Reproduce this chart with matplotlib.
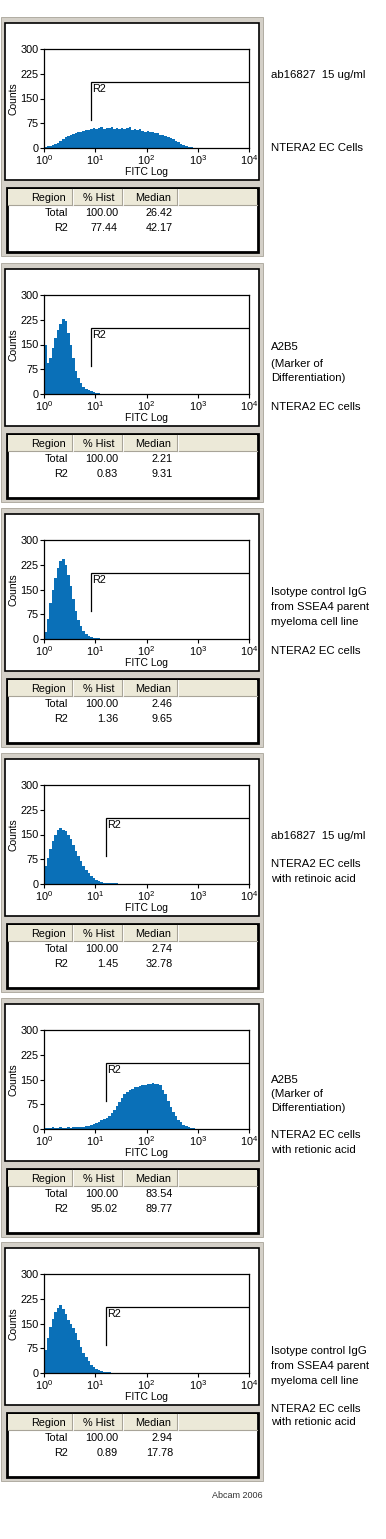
import numpy as np
import matplotlib
matplotlib.use("Agg")
import matplotlib.pyplot as plt
from matplotlib.patches import Rectangle
from matplotlib.lines import Line2D

plt.rcParams['font.family'] = ['Liberation Sans', 'DejaVu Sans']
plt.rcParams['mathtext.fontset'] = 'custom'
plt.rcParams['mathtext.rm'] = 'Liberation Sans'

W, H = 386, 1539
BLUE = '#0a70b8'
GRAY = '#d4d0c8'
HEAD = '#ece9d8'

# ---------------- data ----------------
bin_step = 0.05  # decades per bin, 80 bins from 10^0 to 10^4

hist1 = [3, 5, 7, 9, 12, 15, 20, 26, 32, 36, 40, 42, 45, 47, 50, 52, 55, 54, 58, 62,
         57, 60, 63, 58, 62, 60, 64, 59, 62, 58, 61, 57, 60, 63, 56, 58, 54, 57, 52, 50,
         52, 47, 48, 44, 45, 40, 38, 35, 33, 30, 26, 22, 17, 13, 10, 7, 4, 3, 1, 1]
hist2 = [150, 95, 110, 140, 170, 195, 212, 228, 220, 185, 150, 110, 70, 48, 32, 22, 16, 12, 8, 5,
         3, 2, 1, 1]
hist3 = [20, 60, 110, 150, 185, 215, 235, 242, 225, 195, 160, 120, 85, 58, 38, 25, 16, 10, 7, 4,
         3, 2, 1, 1]
hist4 = [55, 80, 105, 130, 150, 165, 170, 165, 160, 150, 135, 118, 100, 85, 70, 55, 42, 32, 24, 17,
         12, 8, 6, 4, 3, 3, 2, 2, 2, 1, 1, 1]
hist5 = [4, 4, 4, 5, 4, 4, 5, 4, 4, 5, 4, 5, 5, 5, 6, 6, 8, 10, 12, 14,
         18, 22, 26, 30, 34, 40, 48, 58, 70, 82, 95, 105, 112, 118, 122, 126, 128, 130, 132, 134,
         136, 135, 138, 136, 137, 132, 118, 105, 85, 68, 52, 38, 28, 20, 12, 8, 5, 3, 2, 1]
hist6 = [70, 105, 140, 165, 185, 198, 205, 195, 178, 162, 150, 135, 120, 100, 80, 62, 48, 35, 25, 18,
         13, 9, 6, 4, 3, 2, 1]
hists = [hist1, hist2, hist3, hist4, hist5, hist6]

gate_start = [8.3, 8.3, 8.3, 16.0, 16.0, 16.0]
gate_level = 200
gate_floor = 85

pct_total = ['100.00'] * 6
pct_r2 = ['77.44', '0.83', '1.36', '1.45', '95.02', '0.89']
median_total = ['26.42', '2.21', '2.46', '2.74', '83.54', '2.94']
median_r2 = ['42.17', '9.31', '9.65', '32.78', '89.77', '17.78']

notes = [
    [(52, 'ab16827  15 ug/ml'), (125, 'NTERA2 EC Cells')],
    [(78, 'A2B5'), (95, '(Marker of'), (109, 'Differentiation)'), (138, 'NTERA2 EC cells')],
    [(78, 'Isotype control IgG'), (93, 'from SSEA4 parent'), (108, 'myeloma cell line'), (137, 'NTERA2 EC cells')],
    [(77, 'ab16827  15 ug/ml'), (105, 'NTERA2 EC cells'), (120, 'with retinoic acid')],
    [(76, 'A2B5'), (90, '(Marker of'), (104, 'Differentiation)'), (131, 'NTERA2 EC cells'), (146, 'with retionic acid')],
    [(103, 'Isotype control IgG'), (118, 'from SSEA4 parent'), (133, 'myeloma cell line'), (161, 'NTERA2 EC cells'), (174, 'with retionic acid')],
]
panel_tops = [23, 269, 514, 759, 1004, 1248]

yticks = [0, 75, 150, 225, 300]
xticks = [1, 10, 100, 1000, 10000]
xticklabels = [r'$10^{0}$', r'$10^{1}$', r'$10^{2}$', r'$10^{3}$', r'$10^{4}$']

# ---------------- drawing ----------------
fig = plt.figure(figsize=(W / 100, H / 100), dpi=100)
fig.patch.set_facecolor('white')


def fx(x):
    return x / W


def fy(y):
    return 1 - y / H


def rect(x0, y0, x1, y1, **kw):
    r = Rectangle((fx(x0), fy(y1)), (x1 - x0) / W, (y1 - y0) / H,
                  transform=fig.transFigure, **kw)
    fig.add_artist(r)


def hline(x0, x1, y, **kw):
    fig.add_artist(Line2D([fx(x0), fx(x1)], [fy(y), fy(y)], transform=fig.transFigure, **kw))


def vline(x, y0, y1, **kw):
    fig.add_artist(Line2D([fx(x), fx(x)], [fy(y0), fy(y1)], transform=fig.transFigure, **kw))


FS = 7.8      # ticks / table
FSL = 7.5     # axis labels
FSN = 8.2     # side notes
for i, T in enumerate(panel_tops):
    # outer window frame
    rect(1, T - 6, 263, T + 233, facecolor=GRAY, edgecolor='#a8a498', lw=0.6, zorder=0)
    rect(5, T, 259, T + 157, facecolor='white', edgecolor='black', lw=1.2, zorder=1)
    # table
    rect(6.5, T + 165, 257.5, T + 229, facecolor='white', edgecolor='black', lw=2.0, zorder=1)
    rect(7.5, T + 166, 256.5, T + 182, facecolor=HEAD, edgecolor='none', zorder=2)
    hline(7.5, 256.5, T + 182, color='#a8a498', lw=0.8, zorder=3)
    for cx in (72, 122, 177):
        vline(cx, T + 166, T + 182, color='#a8a498', lw=0.8, zorder=3)
        vline(cx + 1, T + 166, T + 182, color='white', lw=0.6, zorder=3)
    for label, cx in (('Region', 48), ('% Hist', 99), ('Median', 153)):
        fig.text(fx(cx), fy(T + 175), label, ha='center', va='center', fontsize=FS, zorder=4)
    for row, (name, pv, mv) in enumerate((('Total', pct_total[i], median_total[i]),
                                          ('R2', pct_r2[i], median_r2[i]))):
        yy = T + 190 + 15 * row
        fig.text(fx(68), fy(yy), name, ha='right', va='center', fontsize=FS, zorder=4)
        fig.text(fx(118), fy(yy), pv, ha='right', va='center', fontsize=FS, zorder=4)
        fig.text(fx(173), fy(yy), mv, ha='right', va='center', fontsize=FS, zorder=4)

    # histogram axes
    ax = fig.add_axes([fx(44), fy(T + 125), (249 - 44) / W, (125 - 26) / H])
    ax.set_zorder(5)
    counts = np.zeros(80)
    counts[:len(hists[i])] = hists[i]
    edges = 10 ** (np.arange(81) * bin_step)
    ax.stairs(counts, edges, fill=True, color=BLUE, lw=0)
    g = gate_start[i]
    ax.plot([g, g, 1e4], [gate_floor, gate_level, gate_level], color='black', lw=0.9,
            solid_joinstyle='miter')
    ax.text(g * 1.07, gate_level - 6, 'R2', ha='left', va='top', fontsize=FS)
    ax.set_xscale('log')
    ax.set_xlim(1, 1e4)
    ax.set_ylim(0, 300)
    ax.set_xticks(xticks)
    ax.set_xticklabels(xticklabels)
    ax.minorticks_off()
    ax.set_yticks(yticks)
    ax.tick_params(axis='both', direction='out', length=3, width=0.8, labelsize=FS, pad=1)
    for s in ax.spines.values():
        s.set_linewidth(0.9)
    ax.set_xlabel('FITC Log', fontsize=FSL, labelpad=0)
    ax.set_ylabel('Counts', fontsize=FSL, labelpad=1)
    ax.patch.set_alpha(0)

    for dy, txt in notes[i]:
        fig.text(fx(271), fy(T + dy), txt, ha='left', va='center', fontsize=FSN)

fig.text(fx(263), fy(1495), 'Abcam 2006', ha='right', va='center', fontsize=6.5, color='#333333')

fig.savefig('out.png', dpi=100, facecolor='white')
